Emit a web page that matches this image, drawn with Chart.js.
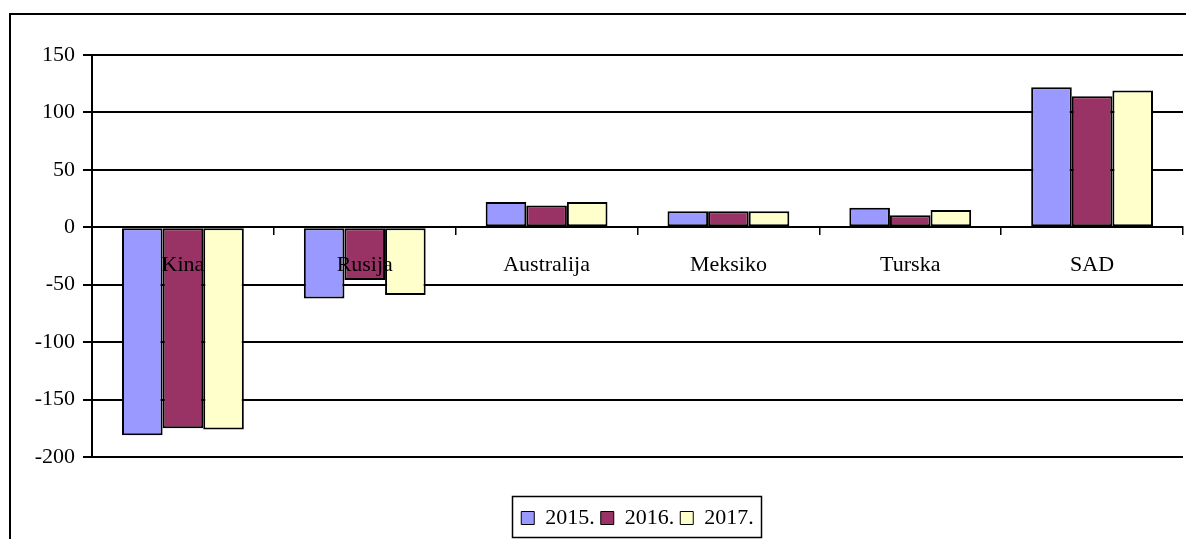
<!DOCTYPE html>
<html>
<head>
<meta charset="utf-8">
<script src="https://cdn.jsdelivr.net/npm/chart.js@4.4.1/dist/chart.umd.min.js"></script>
<style>
  html, body { margin: 0; padding: 0; background: #fff; overflow: hidden; }
  #frame { position: absolute; left: 9px; top: 13px; width: 1200px; height: 600px; border: 2px solid #000; }
  #wrap { position: absolute; left: 0; top: 0; width: 1186px; height: 539px; }
</style>
</head>
<body>
<div id="frame"></div>
<div id="wrap"><canvas id="chart"></canvas></div>
<script>
// podaci s grafikona
const categories = ["Kina", "Rusija", "Australija", "Meksiko", "Turska", "SAD"];
const seriesNames = ["2015.", "2016.", "2017."];
const values2015 = [-181, -62, 22, 14, 17, 122];
const values2016 = [-175, -46, 19, 14, 10.5, 114];
const values2017 = [-176, -59, 22, 14, 15, 119];
const yTicks = [-200, -150, -100, -50, 0, 50, 100, 150];

const colors = ["#9999FF", "#993366", "#FFFFCC"];

Chart.defaults.font.family = "'Liberation Serif', 'Times New Roman', serif";
Chart.defaults.font.size = 22;
Chart.defaults.color = "#000";

// okvir oko legende
const legendFrame = {
    id: "legendFrame",
    afterDraw(chart) {
        const lg = chart.legend;
        if (!lg || !lg.legendHitBoxes.length) return;
        const boxes = lg.legendHitBoxes;
        const left = Math.round(Math.min(...boxes.map(b => b.left)) - 9);
        const right = Math.round(Math.max(...boxes.map(b => b.left + b.width)) + 7);
        const top = Math.round(boxes[0].top - 11);
        const ctx = chart.ctx;
        ctx.save();
        ctx.strokeStyle = "#000";
        ctx.lineWidth = 1.5;
        ctx.strokeRect(left + 0.5, top + 0.5, right - left, 538 - top - 1);
        ctx.restore();
    }
};

function makeDataset(label, data, i) {
    return {
        label: label,
        data: data,
        backgroundColor: colors[i],
        borderColor: "#000",
        borderWidth: 2,
        borderSkipped: false,
        categoryPercentage: 0.67,
        barPercentage: 1
    };
}

new Chart(document.getElementById("chart"), {
    type: "bar",
    data: {
        labels: categories,
        datasets: [
            makeDataset(seriesNames[0], values2015, 0),
            makeDataset(seriesNames[1], values2016, 1),
            makeDataset(seriesNames[2], values2017, 2)
        ]
    },
    options: {
        responsive: true,
        maintainAspectRatio: false,
        animation: false,
        layout: { padding: { left: 0, right: 3, top: 55, bottom: 0 } },
        plugins: {
            tooltip: { enabled: false },
            legend: {
                position: "bottom",
                fullSize: false,
                title: { display: true, text: " ", font: { size: 10, lineHeight: 1 }, padding: { top: 34, bottom: 0 } },
                labels: {
                    boxWidth: 13,
                    boxHeight: 13,
                    padding: 6,
                    font: { size: 22 },
                    generateLabels(chart) {
                        return Chart.defaults.plugins.legend.labels.generateLabels(chart).map(l => {
                            l.lineWidth = 1;
                            return l;
                        });
                    }
                }
            }
        },
        scales: {
            x: {
                position: { y: 0 },
                grid: { drawOnChartArea: false, drawTicks: true, tickLength: 7, color: "#000", lineWidth: 1.5 },
                border: { display: true, color: "#000", width: 2 },
                ticks: { z: 1, padding: 18, font: { size: 22 }, maxRotation: 0, autoSkip: false }
            },
            y: {
                min: -200,
                max: 150,
                afterBuildTicks(scale) { scale.ticks = yTicks.map(v => ({ value: v })); },
                afterFit(scale) { scale.width = 92; },
                grid: { color: "#000", lineWidth: 2, tickLength: 9 },
                border: { display: true, color: "#000", width: 2 },
                ticks: { padding: 8, font: { size: 22 } }
            }
        }
    },
    plugins: [legendFrame]
});
</script>
</body>
</html>
